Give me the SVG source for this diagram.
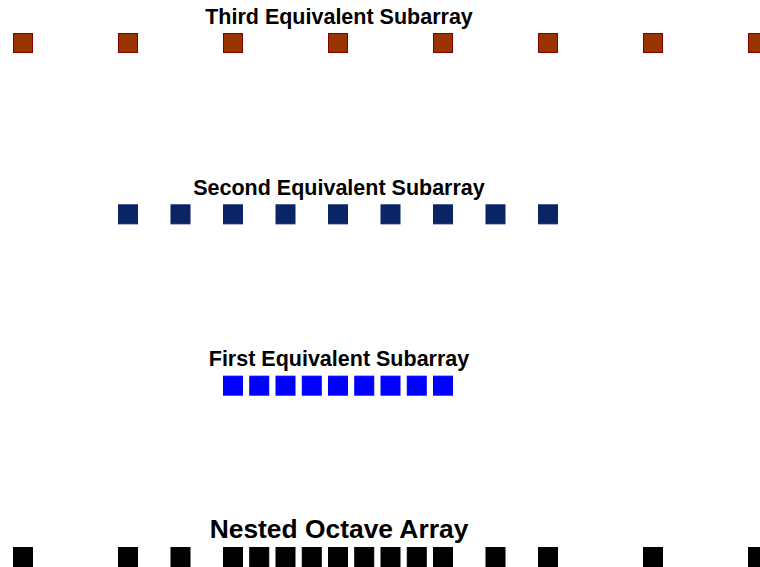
<svg xmlns="http://www.w3.org/2000/svg" width="760" height="567" viewBox="0 0 760 567">
  <style>
    .label { font-family: "Liberation Sans", Arial, Helvetica, sans-serif; font-weight: bold; font-size: 21.5px; fill: #000; text-anchor: middle; }
    .big { font-size: 26.4px; }
    .third rect { fill: #993300; stroke: #800000; stroke-width: 1; }
    .second rect { fill: #0B2466; stroke: #0B2466; stroke-width: 1; }
    .first rect { fill: #0000FF; stroke: #0000FF; stroke-width: 1; }
    .nested rect { fill: #000000; stroke: #000000; stroke-width: 1; }
  </style>
  <rect width="760" height="567" fill="#ffffff"/>

  <!-- Third subarray: spacing 4d (105 px) -->
  <g id="third-subarray" class="third">
    <text class="label" x="339" y="23.5">Third Equivalent Subarray</text>
    <g transform="translate(0,33)">
      <rect x="13.5" y="0.5" width="19" height="19"/>
      <rect x="118.5" y="0.5" width="19" height="19"/>
      <rect x="223.5" y="0.5" width="19" height="19"/>
      <rect x="328.5" y="0.5" width="19" height="19"/>
      <rect x="433.5" y="0.5" width="19" height="19"/>
      <rect x="538.5" y="0.5" width="19" height="19"/>
      <rect x="643.5" y="0.5" width="19" height="19"/>
      <rect x="748.5" y="0.5" width="19" height="19"/>
    </g>
  </g>

  <!-- Second subarray: spacing 2d (52.5 px) -->
  <g id="second-subarray" class="second">
    <text class="label" x="339" y="194.5">Second Equivalent Subarray</text>
    <g transform="translate(0,204.33)">
      <rect x="118.5" y="0.5" width="19" height="19"/>
      <rect x="171" y="0.5" width="19" height="19"/>
      <rect x="223.5" y="0.5" width="19" height="19"/>
      <rect x="276" y="0.5" width="19" height="19"/>
      <rect x="328.5" y="0.5" width="19" height="19"/>
      <rect x="381" y="0.5" width="19" height="19"/>
      <rect x="433.5" y="0.5" width="19" height="19"/>
      <rect x="486" y="0.5" width="19" height="19"/>
      <rect x="538.5" y="0.5" width="19" height="19"/>
    </g>
  </g>

  <!-- First subarray: spacing d (26.25 px) -->
  <g id="first-subarray" class="first">
    <text class="label" x="339" y="365.5">First Equivalent Subarray</text>
    <g transform="translate(0,375.67)">
      <rect x="223.5" y="0.5" width="19" height="19"/>
      <rect x="249.75" y="0.5" width="19" height="19"/>
      <rect x="276" y="0.5" width="19" height="19"/>
      <rect x="302.25" y="0.5" width="19" height="19"/>
      <rect x="328.5" y="0.5" width="19" height="19"/>
      <rect x="354.75" y="0.5" width="19" height="19"/>
      <rect x="381" y="0.5" width="19" height="19"/>
      <rect x="407.25" y="0.5" width="19" height="19"/>
      <rect x="433.5" y="0.5" width="19" height="19"/>
    </g>
  </g>

  <!-- Nested octave array: union of the three subarrays -->
  <g id="nested-octave-array" class="nested">
    <text class="label big" x="339" y="537.5">Nested Octave Array</text>
    <g transform="translate(0,547)">
      <rect x="13.5" y="0.5" width="19" height="19"/>
      <rect x="118.5" y="0.5" width="19" height="19"/>
      <rect x="171" y="0.5" width="19" height="19"/>
      <rect x="223.5" y="0.5" width="19" height="19"/>
      <rect x="249.75" y="0.5" width="19" height="19"/>
      <rect x="276" y="0.5" width="19" height="19"/>
      <rect x="302.25" y="0.5" width="19" height="19"/>
      <rect x="328.5" y="0.5" width="19" height="19"/>
      <rect x="354.75" y="0.5" width="19" height="19"/>
      <rect x="381" y="0.5" width="19" height="19"/>
      <rect x="407.25" y="0.5" width="19" height="19"/>
      <rect x="433.5" y="0.5" width="19" height="19"/>
      <rect x="486" y="0.5" width="19" height="19"/>
      <rect x="538.5" y="0.5" width="19" height="19"/>
      <rect x="643.5" y="0.5" width="19" height="19"/>
      <rect x="748.5" y="0.5" width="19" height="19"/>
    </g>
  </g>
</svg>
